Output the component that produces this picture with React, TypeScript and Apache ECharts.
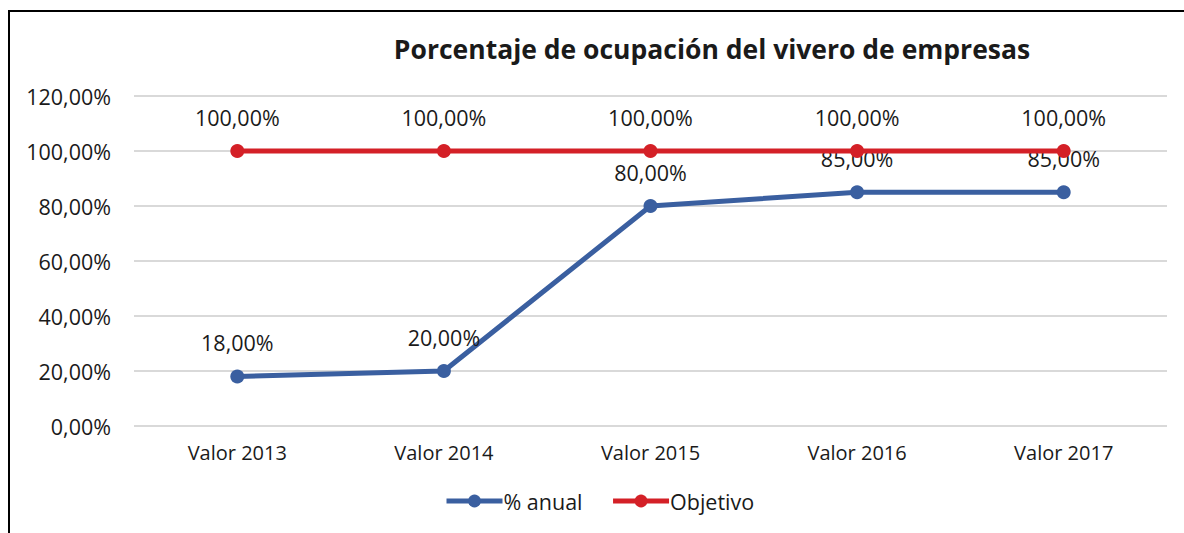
import React, { useEffect, useRef } from "react";
import * as echarts from "echarts";

const categories = ["Valor 2013", "Valor 2014", "Valor 2015", "Valor 2016", "Valor 2017"];
const anual = [18, 20, 80, 85, 85];
const objetivo = [100, 100, 100, 100, 100];
const seriesNames = ["% anual", "Objetivo"];
const titleText = "Porcentaje de ocupación del vivero de empresas";

const FONT = "Open Sans";
const fmt = (v: number) => v.toFixed(2).replace(".", ",") + "%";

export default function App() {
  const ref = useRef<HTMLDivElement>(null);
  useEffect(() => {
    if (!ref.current) return;
    const chart = echarts.init(ref.current, undefined, { renderer: "svg" });
    chart.setOption({
      animation: false,
      backgroundColor: "#ffffff",
      textStyle: { fontFamily: FONT },
      title: {
        text: titleText,
        left: 707,
        textAlign: "center",
        top: 30,
        textStyle: { fontFamily: FONT, fontSize: 26.5, fontWeight: "bold", color: "#1a1a1a" },
      },
      grid: { left: 134, right: 17, top: 96, bottom: 107 },
      legend: {
        bottom: 16,
        left: 439,
        itemWidth: 56,
        itemHeight: 16,
        itemGap: 28,
        data: seriesNames,
        lineStyle: { width: 5 },
        textStyle: { fontFamily: FONT, fontSize: 21.5, color: "#1a1a1a", padding: [0, 0, 0, -4] },
      },
      xAxis: {
        type: "category",
        data: categories,
        boundaryGap: true,
        axisLine: { show: false },
        axisTick: { show: false },
        axisLabel: { fontFamily: FONT, fontSize: 20, color: "#1a1a1a", margin: 16 },
      },
      yAxis: {
        type: "value",
        min: 0,
        max: 120,
        interval: 20,
        axisLine: { show: false },
        axisTick: { show: false },
        splitLine: { lineStyle: { color: "#d9d9d9", width: 2 } },
        axisLabel: {
          fontFamily: FONT,
          fontSize: 21.5,
          color: "#1a1a1a",
          margin: 23,
          formatter: (v: number) => fmt(v),
        },
      },
      series: [
        {
          name: seriesNames[0],
          type: "line",
          data: anual,
          symbol: "circle",
          symbolSize: 14,
          itemStyle: { color: "#3a5fa0" },
          lineStyle: { color: "#3a5fa0", width: 5 },
          label: {
            show: true,
            position: "top",
            distance: 16,
            fontFamily: FONT,
            fontSize: 21.5,
            color: "#1a1a1a",
            formatter: (p: any) => fmt(p.value),
          },
          z: 2,
        },
        {
          name: seriesNames[1],
          type: "line",
          data: objetivo,
          symbol: "circle",
          symbolSize: 14,
          itemStyle: { color: "#d42027" },
          lineStyle: { color: "#d42027", width: 5 },
          label: {
            show: true,
            position: "top",
            distance: 16,
            fontFamily: FONT,
            fontSize: 21.5,
            color: "#1a1a1a",
            formatter: (p: any) => fmt(p.value),
          },
          z: 3,
        },
      ],
    });
    return () => chart.dispose();
  }, []);
  return (
    <div style={{ position: "fixed", left: 0, top: 0, width: 1184, height: 533 }}>
      <div ref={ref} style={{ position: "absolute", left: 0, top: 0, width: 1184, height: 533 }} />
      <div
        style={{
          position: "absolute",
          left: 8,
          top: 10,
          width: 1176,
          height: 523,
          borderLeft: "2px solid #000",
          borderTop: "2px solid #000",
          boxSizing: "border-box",
          pointerEvents: "none",
        }}
      />
    </div>
  );
}
